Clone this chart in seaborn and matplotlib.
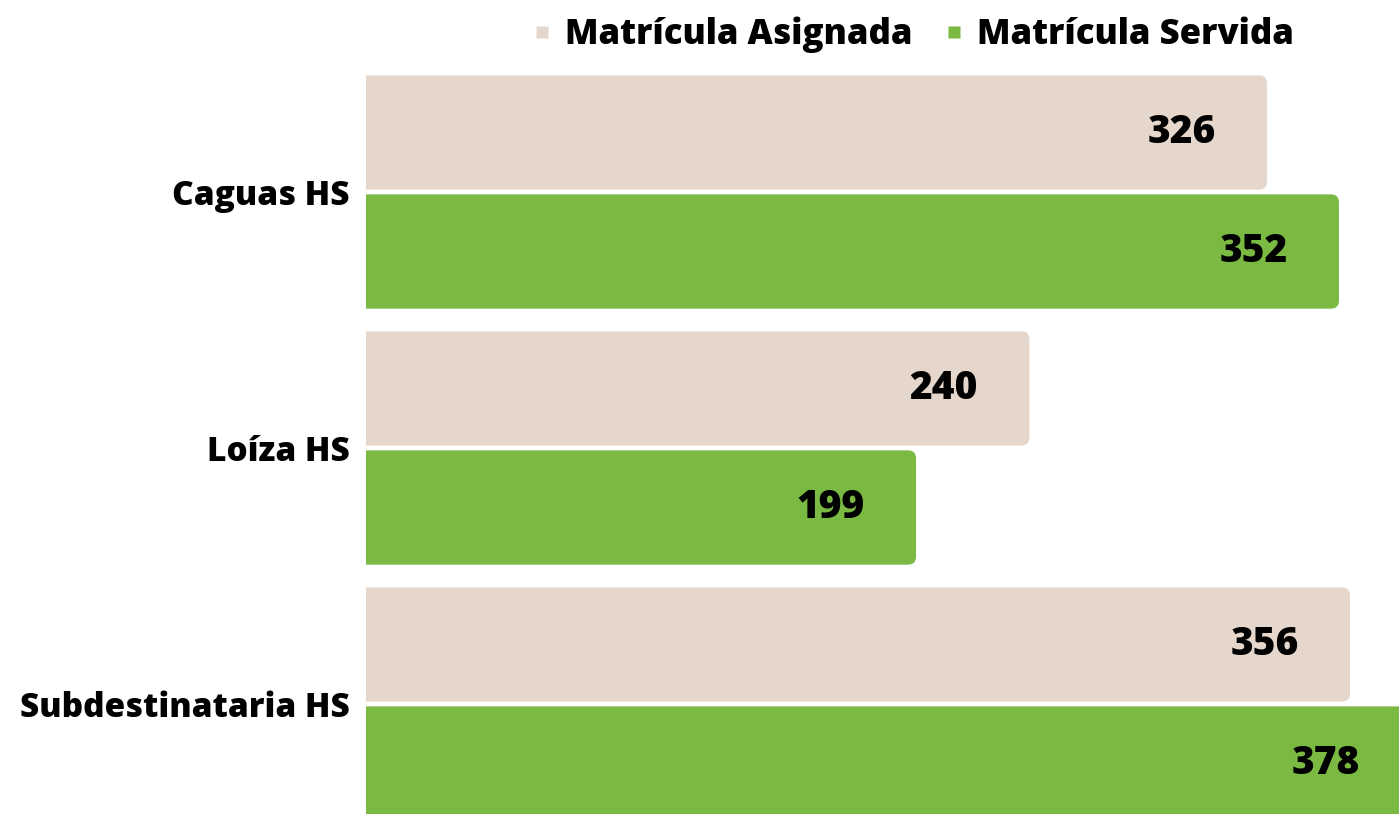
import matplotlib
matplotlib.use("Agg")
import matplotlib.pyplot as plt
import seaborn as sns
import pandas as pd
from matplotlib.patches import FancyBboxPatch
from matplotlib.lines import Line2D

schools = ["Caguas HS", "Loíza HS", "Subdestinataria HS"]
asignada = [326, 240, 356]
servida = [352, 199, 378]
series_names = ["Matrícula Asignada", "Matrícula Servida"]
colors = ["#E5D7CC", "#7AB942"]

sns.set_theme(style="white")
plt.rcParams["font.family"] = ["Open Sans", "DejaVu Sans"]

df = pd.DataFrame({
    "school": schools * 2,
    "value": asignada + servida,
    "serie": [series_names[0]] * len(schools) + [series_names[1]] * len(schools),
})

W, H = 1399, 814
fig = plt.figure(figsize=(W / 100, H / 100), dpi=100)
ax = fig.add_axes([366 / W, 0, (W - 366) / W, (H - 60) / H])

sns.barplot(data=df, y="school", x="value", hue="serie", palette=colors,
            orient="h", width=0.93, gap=0.04, ax=ax, legend=False, saturation=1)

xmax = (W - 366) / 2.764
ax.set_xlim(0, xmax)
ax.set_ylim(2.4297, -0.5156)

# rounded bars
px_x = (W - 366) / xmax
px_y = (H - 60) / (2.4297 + 0.5156)
r = 8 / px_x
aspect = (8 / px_y) / r
bars = [p for p in ax.patches]
for p in bars:
    x, y = p.get_x(), p.get_y()
    w, h = p.get_width(), p.get_height()
    fc = p.get_facecolor()
    p.remove()
    fb = FancyBboxPatch((x - 20, y), w + 20, h,
                        boxstyle=f"round,pad=0,rounding_size={r}",
                        mutation_aspect=aspect, facecolor=fc,
                        edgecolor="none", clip_on=True)
    ax.add_patch(fb)
    ax.annotate(f"{int(round(w))}", xy=(x + w, y + h / 2),
                xytext=(-37, 0), textcoords="offset points",
                ha="right", va="center", fontsize=28, fontweight=800,
                color="black", annotation_clip=False)

ax.set_xlabel("")
ax.set_ylabel("")
ax.set_xticks([])
ax.tick_params(axis="y", length=0, pad=12, labelsize=24)
for t in ax.get_yticklabels():
    t.set_fontweight(800)
    t.set_color("black")
for s in ax.spines.values():
    s.set_visible(False)

handles = [Line2D([], [], marker="s", linestyle="none", markersize=8,
                  markerfacecolor=c, markeredgecolor="none") for c in colors]
leg = fig.legend(handles, series_names, loc="upper center",
                 bbox_to_anchor=(912 / W, 1.018), ncol=2, frameon=False,
                 prop={"size": 25, "weight": 800}, handletextpad=0.3,
                 columnspacing=0.85, handlelength=0.7)
for t in leg.get_texts():
    t.set_color("black")

fig.savefig("out.png", dpi=100)
